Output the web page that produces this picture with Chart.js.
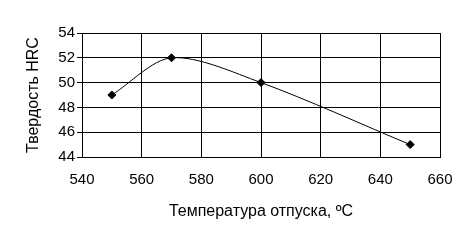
<!DOCTYPE html>
<html>
<head>
<meta charset="utf-8">
<script src="https://cdn.jsdelivr.net/npm/chart.js@4/dist/chart.umd.min.js"></script>
<style>
  html, body { margin: 0; padding: 0; background: #fff; }
  #wrap { width: 474px; height: 249px; }
</style>
</head>
<body>
<div id="wrap"><canvas id="hrcChart" width="474" height="249"></canvas></div>
<script>
// Temperature of tempering vs hardness
const temps = [550, 570, 600, 650];
const hardness = [49, 52, 50, 45];
const xTicks = [540, 560, 580, 600, 620, 640, 660];
const yTicks = [44, 46, 48, 50, 52, 54];

const tickFont = { family: "Liberation Sans, Arial, sans-serif", size: 15 };
const titleFont = { family: "Liberation Sans, Arial, sans-serif", size: 16 };

const ctx = document.getElementById("hrcChart").getContext("2d");
new Chart(ctx, {
    type: "line",
    data: {
        datasets: [{
            data: temps.map((t, i) => ({ x: t, y: hardness[i] })),
            borderColor: "#000",
            borderWidth: 1,
            backgroundColor: "#000",
            pointStyle: "rectRot",
            pointRadius: 4,
            tension: 0.3,
            fill: false
        }]
    },
    options: {
        responsive: false,
        animation: false,
        layout: { padding: { top: 33, right: 34, left: 20, bottom: 24 } },
        plugins: { legend: { display: false }, tooltip: { enabled: false } },
        scales: {
            x: {
                type: "linear",
                min: xTicks[0],
                max: xTicks[xTicks.length - 1],
                afterBuildTicks: s => { s.ticks = xTicks.map(v => ({ value: v })); },
                grid: { color: "#000", lineWidth: 1, drawTicks: false },
                border: { color: "#000" },
                ticks: { color: "#000", font: tickFont, padding: 14, maxRotation: 0 },
                title: { display: true, text: "Температура отпуска, ºC", color: "#000", font: titleFont },
                afterFit: s => { s.height = 68; }
            },
            y: {
                min: yTicks[0],
                max: yTicks[yTicks.length - 1],
                afterBuildTicks: s => { s.ticks = yTicks.map(v => ({ value: v })); },
                grid: { color: "#000", lineWidth: 1, tickLength: 5 },
                border: { color: "#000" },
                ticks: { color: "#000", font: tickFont, padding: 2 },
                title: { display: true, text: "Твердость HRC", color: "#000", font: titleFont },
                afterFit: s => { s.width = 62; }
            }
        }
    }
});
</script>
</body>
</html>
